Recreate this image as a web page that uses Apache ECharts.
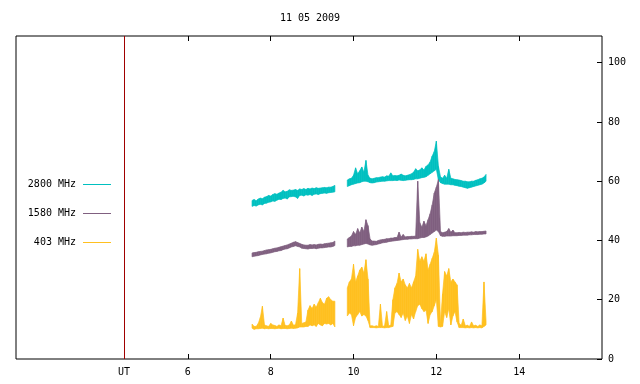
<!DOCTYPE html>
<html>
<head>
<meta charset="utf-8">
<script src="https://cdn.jsdelivr.net/npm/echarts@6/dist/echarts.min.js"></script>
<style>
html, body { margin: 0; padding: 0; background: #fff; }
#chart { width: 640px; height: 384px; }
</style>
</head>
<body>
<div id="chart"></div>
<script>
var chartTitle = '11 05 2009';
var seriesNames = ['2800 MHz', '1580 MHz', '403 MHz'];
var seriesColors = ['#00c0c0', '#806080', '#ffc020'];
var xTicks = [6, 8, 10, 12, 14];
var utMark = 4.46;
var yTicks = [0, 20, 40, 60, 80, 100];

// two observing runs, read every 3 minutes (0.05 h); low / high of the noisy flux in each slot
var run1Start = 7.55, run2Start = 9.85, sampleStep = 0.05;

var cyan1Low  = [51.5,51.8,51.6,52.0,52.2,52.0,52.5,52.6,52.9,53.0,53.3,53.2,53.6,53.9,53.8,54.2,54.3,54.0,54.7,54.8,
                 54.9,54.7,54.2,55.2,55.3,55.0,55.4,55.3,55.5,55.2,55.6,55.7,55.5,55.8,55.9,56.0,55.9,56.1,56.2,56.3,56.4];
var cyan1High = [53.5,53.8,53.4,54.0,54.3,54.1,54.6,54.8,55.2,55.0,55.5,55.8,55.6,56.0,56.3,56.9,56.4,56.6,57.1,56.9,
                 57.0,57.2,56.9,57.4,57.2,57.5,57.2,57.6,57.4,57.7,57.5,57.8,57.6,57.7,57.8,57.9,57.8,58.0,58.0,58.2,58.6];
var purple1Low  = [34.5,34.7,34.8,34.9,35.1,35.3,35.4,35.5,35.7,35.8,36.0,36.2,36.3,36.5,36.6,36.9,37.1,37.2,37.5,37.8,
                   38.0,38.2,38.0,37.8,37.4,37.3,37.2,37.1,37.3,37.3,37.4,37.2,37.4,37.5,37.5,37.6,37.7,37.8,37.8,38.0,38.3];
var purple1High = [35.8,35.9,36.0,36.2,36.3,36.4,36.6,36.8,36.9,37.0,37.2,37.4,37.5,37.7,37.9,38.1,38.3,38.5,38.8,39.1,
                   39.4,39.6,39.3,39.0,38.7,38.5,38.4,38.4,38.6,38.5,38.6,38.5,38.7,38.8,38.7,38.9,39.0,39.1,39.2,39.3,39.8];
var yellow1Low  = [10.4,10.0,10.2,10.2,10.3,10.4,10.2,10.3,10.2,10.3,10.3,10.2,10.3,10.4,10.2,10.3,10.3,10.2,10.3,10.4,
                   10.3,10.4,10.5,10.8,10.8,10.8,11.0,11.0,11.5,11.2,11.5,11.0,12.0,11.5,11.2,12.0,11.8,12.0,11.5,12.0,10.8];
var yellow1High = [11.8,11.0,11.0,12.0,14.0,17.8,11.5,11.2,11.0,12.0,11.5,11.3,11.0,11.5,11.2,13.8,11.3,11.2,11.5,12.8,
                   11.4,11.6,15.5,30.5,12.0,12.2,12.5,16.5,18.0,17.0,18.5,17.5,19.0,20.5,19.0,18.5,20.5,21.0,20.0,19.5,19.5];

var cyan2Low  = [58.2,58.5,58.8,59.0,59.2,59.4,59.5,59.8,60.0,60.0,59.8,59.5,59.4,59.5,59.7,59.8,59.9,60.0,60.0,60.1,
                 60.2,60.2,60.2,60.3,60.2,60.4,60.3,60.2,60.3,60.4,60.5,60.5,60.6,60.8,60.8,61.0,61.2,61.3,61.5,62.0,
                 62.5,63.0,63.5,64.0,60.5,59.5,59.2,59.0,59.0,59.0,58.8,58.8,58.6,58.5,58.3,58.2,58.0,57.8,57.6,57.8,
                 58.0,58.2,58.4,58.6,58.8,59.0,59.4,60.0];
var cyan2High = [60.4,60.8,61.0,62.0,64.5,62.5,63.5,64.8,63.0,67.0,62.0,61.0,60.8,61.0,61.2,61.2,61.4,61.5,61.4,61.8,
                 61.7,62.8,61.8,61.9,61.8,62.0,62.4,62.0,61.8,62.0,62.2,62.5,63.0,64.2,63.5,63.8,64.5,63.8,65.0,65.5,
                 66.5,68.5,70.0,73.5,65.0,61.5,61.0,62.0,61.0,64.0,61.0,60.8,60.6,60.5,60.4,60.2,60.0,60.0,59.8,59.8,
                 60.0,60.0,60.3,60.5,60.8,61.0,61.4,62.3];
var purple2Low  = [37.8,38.0,38.0,38.2,38.2,38.4,38.4,38.6,38.8,39.0,38.8,38.5,38.4,38.5,38.6,38.8,39.0,39.2,39.3,39.4,
                   39.6,39.7,39.8,39.9,40.0,40.1,40.2,40.3,40.4,40.4,40.5,40.5,40.6,40.6,40.6,40.8,41.0,41.0,41.2,41.5,
                   42.0,42.5,43.0,43.5,43.0,41.6,41.4,41.4,41.5,41.5,41.5,41.6,41.6,41.6,41.7,41.7,41.8,41.8,41.8,41.9,
                   41.9,42.0,42.0,42.0,42.1,42.1,42.2,42.2];
var purple2High = [40.5,41.0,41.5,43.0,42.0,44.0,42.5,44.5,43.0,47.0,45.0,40.5,39.8,39.8,39.7,40.0,40.2,40.3,40.4,40.6,
                   40.6,40.8,40.8,41.0,41.0,42.8,41.2,42.0,41.2,41.3,41.3,41.4,41.4,41.5,60.0,46.0,44.5,46.5,45.0,47.0,
                   49.0,52.0,56.0,58.0,60.5,43.0,42.6,42.8,43.0,44.0,42.8,43.5,42.6,42.6,42.7,42.6,42.8,42.7,42.8,42.8,
                   42.9,42.8,43.0,42.9,43.0,43.0,43.1,43.2];
var yellow2Low  = [14.5,15.5,15.0,11.2,14.0,15.0,16.0,14.5,15.0,14.5,13.0,10.6,10.6,10.6,10.5,10.6,10.6,10.6,10.5,10.6,
                   10.6,10.8,11.0,15.5,16.0,15.0,14.0,15.5,13.0,14.5,12.0,15.0,13.5,16.0,18.0,18.5,17.0,16.0,16.5,12.0,
                   15.0,16.0,18.0,20.0,11.0,10.8,11.0,16.0,14.0,17.0,11.5,14.5,16.0,12.5,10.6,10.6,10.6,10.5,10.6,10.5,
                   10.6,10.5,10.6,10.5,10.6,10.5,11.0,11.5];
var yellow2High = [24.0,26.0,27.0,32.0,26.0,28.0,30.0,31.0,29.0,33.5,27.0,11.2,11.2,11.0,11.2,11.0,18.5,11.0,11.2,16.0,
                   11.2,11.4,20.0,24.0,25.5,29.0,26.0,27.0,25.0,24.0,25.5,24.0,26.0,28.0,37.0,33.0,34.5,33.0,35.5,30.0,
                   32.0,34.0,36.0,40.8,35.0,12.0,22.0,29.5,28.0,30.5,26.0,27.0,26.0,25.0,12.0,11.4,13.5,11.2,11.4,11.0,
                   12.5,11.2,11.4,11.0,11.5,11.2,26.0,12.8];

var font = 'DejaVu Sans Mono';

// one item per pair of neighbouring readings: [t, low, high, tNext, lowNext, highNext]
function buildSlices(start, lo, hi) {
  var out = [];
  for (var i = 0; i + 1 < lo.length; i++) {
    out.push([start + i * sampleStep, lo[i], hi[i],
              start + (i + 1) * sampleStep, lo[i + 1], hi[i + 1]]);
  }
  return out;
}

var bands = [
  [cyan1Low, cyan1High, cyan2Low, cyan2High],
  [purple1Low, purple1High, purple2Low, purple2High],
  [yellow1Low, yellow1High, yellow2Low, yellow2High]
];

function renderSlice(params, api) {
  var a = api.coord([api.value(0), api.value(1)]);
  var b = api.coord([api.value(0), api.value(2)]);
  var c = api.coord([api.value(3), api.value(5)]);
  var d = api.coord([api.value(3), api.value(4)]);
  var color = api.visual('color');
  return {
    type: 'polygon',
    shape: { points: [a, b, c, d] },
    style: { fill: color, stroke: color, lineWidth: 0.7 }
  };
}

var series = bands.map(function (b, i) {
  return {
    name: seriesNames[i],
    type: 'custom',
    renderItem: renderSlice,
    data: buildSlices(run1Start, b[0], b[1]).concat(buildSlices(run2Start, b[2], b[3])),
    encode: { x: [0, 3], y: [1, 2, 4, 5] },
    itemStyle: { color: seriesColors[i] },
    silent: true,
    z: 3 + i
  };
});
series.push({
  type: 'line',
  data: [],
  silent: true,
  markLine: {
    silent: true,
    symbol: 'none',
    label: { show: false },
    lineStyle: { color: '#a00000', width: 1, type: 'solid' },
    data: [{ xAxis: utMark }]
  }
});

var graphics = [];
seriesNames.forEach(function (name, i) {
  var y = 184 + i * 29;
  graphics.push({
    type: 'text', x: 76, y: y,
    style: { text: name, fill: '#000', font: '10px "' + font + '"', align: 'right', verticalAlign: 'middle' }
  });
  graphics.push({
    type: 'line',
    shape: { x1: 83, y1: y + 0.5, x2: 111, y2: y + 0.5 },
    style: { stroke: seriesColors[i], lineWidth: 1 }
  });
});
graphics.push({
  type: 'text', x: 310, y: 18,
  style: { text: chartTitle, fill: '#000', font: '10px "' + font + '"', align: 'center', verticalAlign: 'middle' }
});

var chart = echarts.init(document.getElementById('chart'), null, { renderer: 'canvas' });
chart.setOption({
  animation: false,
  backgroundColor: '#fff',
  grid: {
    left: 16, right: 38, top: 36, bottom: 25,
    show: true, borderColor: '#000', borderWidth: 1, backgroundColor: 'transparent'
  },
  xAxis: [{
    type: 'value', min: 1.85, max: 16, position: 'bottom',
    axisLine: { show: false },
    splitLine: { show: false },
    axisTick: { inside: true, length: 5, customValues: xTicks, lineStyle: { color: '#000' } },
    axisLabel: {
      customValues: [utMark].concat(xTicks),
      formatter: function (v) { return v === utMark ? 'UT' : String(v); },
      margin: 8, color: '#000', fontFamily: font, fontSize: 10
    }
  }, {
    type: 'value', min: 1.85, max: 16, position: 'top',
    axisLine: { show: false },
    splitLine: { show: false },
    axisTick: { inside: true, length: 5, customValues: xTicks, lineStyle: { color: '#000' } },
    axisLabel: { show: false }
  }],
  yAxis: {
    type: 'value', min: 0, max: 109, position: 'right',
    axisLine: { show: false },
    splitLine: { show: false },
    axisTick: { inside: true, length: 5, customValues: yTicks, lineStyle: { color: '#000' } },
    axisLabel: { customValues: yTicks, margin: 6, color: '#000', fontFamily: font, fontSize: 10 }
  },
  graphic: graphics,
  series: series
});
</script>
</body>
</html>
